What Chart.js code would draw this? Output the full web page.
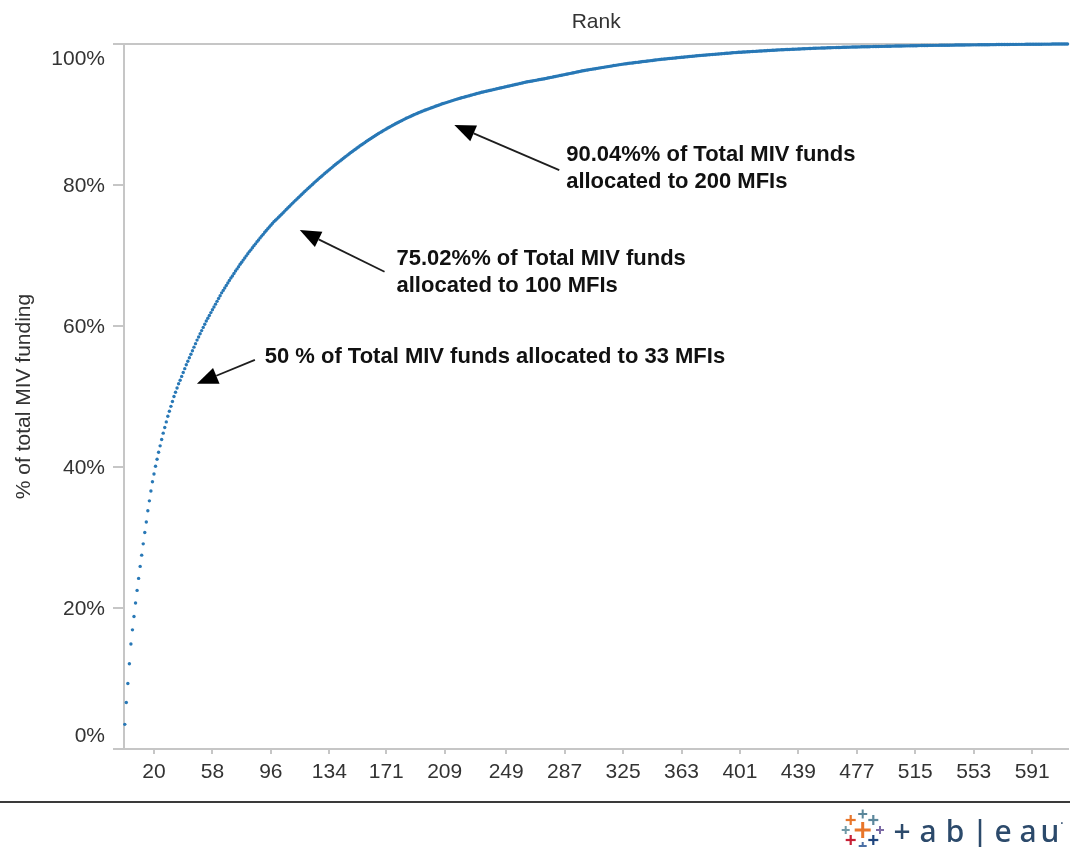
<!DOCTYPE html>
<html><head><meta charset="utf-8">
<script src="https://cdn.jsdelivr.net/npm/chart.js@4.4.1/dist/chart.umd.min.js"></script>
<style>html,body{margin:0;padding:0;background:#fff;overflow:hidden}#wrap{width:1070px;height:847px;position:relative}</style>
</head><body><div id="wrap"><canvas id="c" width="1070" height="847"></canvas></div>
<script>
// ---- data ----
const xTickValues = [20,58,96,134,171,209,249,287,325,363,401,439,477,515,553,591];
const yTickValues = [0,20,40,60,80,100];
const yTickLabels = ['0%','20%','40%','60%','80%','100%'];
// cumulative % of total MIV funding, rank 1 .. 614
const cumulativeShare = [
3.5,6.6,9.3,12.1,14.9,16.9,18.8,20.7,22.5,24.2,25.9,27.5,29.1,30.7,32.2,33.8,35.2,36.6,37.9,39.0,40.1,41.1,42.1,43.0,43.9,
44.8,45.6,46.4,47.2,47.9,48.6,49.3,50.0,50.6,51.2,51.8,52.3,52.85,53.4,53.95,54.5,55.0,55.5,56.0,56.5,57.0,57.5,58.0,58.45,58.9,
59.35,59.8,60.25,60.7,61.1,61.5,61.9,62.3,62.7,63.1,63.5,63.9,64.3,64.7,65.05,65.4,65.75,66.1,66.45,66.8,67.1,67.45,67.8,68.1,68.4,
68.75,69.05,69.35,69.65,69.95,70.25,70.55,70.8,71.1,71.4,71.65,71.95,72.2,72.5,72.75,73.0,73.3,73.55,73.8,74.05,74.3,74.55,74.8,75.0,75.2,
75.42,75.64,75.86,76.08,76.3,76.52,76.74,76.96,77.18,77.4,77.61,77.82,78.03,78.24,78.45,78.66,78.87,79.08,79.28,79.48,79.68,79.88,80.08,80.28,80.48,
80.68,80.87,81.06,81.25,81.44,81.63,81.82,82.0,82.18,82.36,82.54,82.72,82.9,83.08,83.25,83.42,83.59,83.76,83.93,84.1,84.27,84.44,84.6,84.76,84.92,
85.08,85.24,85.4,85.56,85.71,85.86,86.01,86.16,86.31,86.46,86.6,86.74,86.88,87.02,87.16,87.3,87.43,87.56,87.69,87.82,87.95,88.08,88.2,88.32,88.44,
88.56,88.68,88.8,88.91,89.02,89.13,89.24,89.35,89.46,89.56,89.66,89.76,89.86,89.96,90.06,90.15,90.24,90.33,90.42,90.51,90.6,90.68,90.76,90.84,90.92,
91.0,91.08,91.16,91.24,91.32,91.4,91.48,91.55,91.62,91.69,91.76,91.83,91.9,91.97,92.04,92.11,92.18,92.25,92.31,92.37,92.43,92.49,92.55,92.61,92.67,
92.73,92.79,92.85,92.91,92.97,93.03,93.09,93.15,93.2,93.25,93.3,93.35,93.4,93.45,93.5,93.55,93.6,93.65,93.7,93.75,93.8,93.85,93.9,93.95,94.0,
94.05,94.1,94.15,94.2,94.25,94.3,94.35,94.4,94.45,94.5,94.55,94.6,94.64,94.68,94.72,94.76,94.8,94.84,94.88,94.92,94.96,95.0,95.04,95.08,95.12,
95.17,95.21,95.26,95.3,95.35,95.39,95.44,95.48,95.53,95.57,95.62,95.66,95.71,95.75,95.8,95.84,95.89,95.93,95.98,96.02,96.07,96.11,96.16,96.2,96.25,
96.29,96.32,96.36,96.4,96.43,96.47,96.5,96.54,96.58,96.61,96.65,96.68,96.72,96.76,96.79,96.83,96.86,96.9,96.94,96.97,97.01,97.04,97.08,97.11,97.15,
97.18,97.2,97.23,97.26,97.29,97.31,97.34,97.37,97.4,97.42,97.45,97.48,97.51,97.53,97.56,97.59,97.61,97.64,97.67,97.7,97.72,97.75,97.78,97.8,97.83,
97.85,97.87,97.89,97.92,97.94,97.96,97.98,98.0,98.02,98.05,98.07,98.09,98.11,98.13,98.15,98.18,98.2,98.22,98.24,98.26,98.28,98.31,98.33,98.35,98.37,
98.39,98.41,98.42,98.44,98.46,98.48,98.5,98.51,98.53,98.55,98.57,98.59,98.6,98.62,98.64,98.66,98.68,98.69,98.71,98.73,98.75,98.77,98.78,98.8,98.82,
98.83,98.84,98.86,98.87,98.88,98.9,98.91,98.92,98.94,98.95,98.96,98.98,98.99,99.0,99.01,99.03,99.04,99.05,99.07,99.08,99.09,99.11,99.12,99.13,99.15,
99.16,99.17,99.18,99.19,99.2,99.21,99.22,99.23,99.24,99.25,99.26,99.27,99.28,99.29,99.3,99.31,99.32,99.33,99.34,99.35,99.36,99.37,99.38,99.39,99.4,
99.41,99.42,99.42,99.43,99.44,99.44,99.45,99.46,99.46,99.47,99.48,99.49,99.49,99.5,99.51,99.51,99.52,99.53,99.53,99.54,99.55,99.55,99.56,99.57,99.57,
99.58,99.58,99.59,99.59,99.6,99.6,99.61,99.61,99.62,99.62,99.63,99.63,99.64,99.64,99.65,99.65,99.66,99.66,99.67,99.67,99.68,99.68,99.69,99.69,99.7,
99.7,99.71,99.71,99.72,99.72,99.72,99.73,99.73,99.74,99.74,99.74,99.75,99.75,99.76,99.76,99.76,99.77,99.77,99.78,99.78,99.78,99.79,99.79,99.8,99.8,
99.8,99.81,99.81,99.81,99.81,99.82,99.82,99.82,99.83,99.83,99.83,99.83,99.84,99.84,99.84,99.85,99.85,99.85,99.85,99.86,99.86,99.86,99.87,99.87,99.87,
99.87,99.88,99.88,99.88,99.88,99.89,99.89,99.89,99.89,99.9,99.9,99.9,99.9,99.91,99.91,99.91,99.91,99.92,99.92,99.92,99.92,99.93,99.93,99.93,99.93,
99.93,99.94,99.94,99.94,99.94,99.94,99.95,99.95,99.95,99.95,99.95,99.96,99.96,99.96,99.96,99.96,99.96,99.97,99.97,99.97,99.97,99.97,99.98,99.98,99.98,
99.98,99.98,99.98,99.99,99.99,99.99,99.99,99.99,99.99,100,100,100,100,100
];
const annotationTexts = [
  ['90.04%% of Total MIV funds','allocated to 200 MFIs'],
  ['75.02%% of Total MIV funds','allocated to 100 MFIs'],
  ['50 % of Total MIV funds allocated to 33 MFIs']
];
// anchor points in data units [rank, %]
const annotationAnchors = [
  {tip:[215.3,88.5], tail:[283.5,82.1], text:[288,84.3]},
  {tip:[114.8,73.6], tail:[169.9,67.7], text:[177.7,69.5]},
  {tip:[47.9,51.8],  tail:[85.6,55.2],  text:[92,55.6]}
];

const points = cumulativeShare.map((v,i)=>({x:i+1,y:v}));
const FONT = '"Liberation Sans", Arial, sans-serif';
const AXIS_GRAY = '#c6c6c6';
const TEXT = '#333333';

const decorPlugin = {
  id:'decor',
  afterDraw(chart){
    const ctx = chart.ctx, xs = chart.scales.x, ys = chart.scales.y;
    ctx.save();
    // y tick labels (Tableau keeps edge labels inside the axis range)
    ctx.font = '21px ' + FONT; ctx.fillStyle = TEXT;
    ctx.textAlign = 'right'; ctx.textBaseline = 'middle';
    yTickValues.forEach((v,i)=>{
      let py = ys.getPixelForValue(v);
      py = Math.min(Math.max(py, ys.top + 14), ys.bottom - 14);
      ctx.fillText(yTickLabels[i], ys.right - 19, py + 1);
    });
    // annotations
    annotationAnchors.forEach((a,i)=>{
      const tx = xs.getPixelForValue(a.tip[0]), ty = ys.getPixelForValue(a.tip[1]);
      const sx = xs.getPixelForValue(a.tail[0]), sy = ys.getPixelForValue(a.tail[1]);
      const ang = Math.atan2(ty-sy, tx-sx);
      const L = 21, W = 8.5;
      const bx = tx - L*Math.cos(ang), by = ty - L*Math.sin(ang);
      ctx.strokeStyle = '#1e1e1e'; ctx.lineWidth = 1.8;
      ctx.beginPath(); ctx.moveTo(sx,sy); ctx.lineTo(bx,by); ctx.stroke();
      ctx.fillStyle = '#000';
      ctx.beginPath();
      ctx.moveTo(tx,ty);
      ctx.lineTo(bx + W*Math.sin(ang), by - W*Math.cos(ang));
      ctx.lineTo(bx - W*Math.sin(ang), by + W*Math.cos(ang));
      ctx.closePath(); ctx.fill();
      ctx.font = 'bold 22px ' + FONT; ctx.fillStyle = '#111';
      ctx.textAlign = 'left'; ctx.textBaseline = 'middle';
      const px = xs.getPixelForValue(a.text[0]), py = ys.getPixelForValue(a.text[1]);
      annotationTexts[i].forEach((line,j)=> ctx.fillText(line, px, py + j*27));
    });
    // footer divider
    ctx.strokeStyle = '#3a3a3a'; ctx.lineWidth = 2;
    ctx.beginPath(); ctx.moveTo(0, 802); ctx.lineTo(1070, 802); ctx.stroke();
    // tableau logo
    const cross = (cx,cy,h,t,col)=>{ ctx.fillStyle = col; ctx.fillRect(cx-h,cy-t/2,2*h,t); ctx.fillRect(cx-t/2,cy-h,t,2*h); };
    cross(862.7,814,4.5,2,'#5b879b');
    cross(850.7,820,5,2.2,'#e8762b');
    cross(873.3,820,5,2.2,'#5b879b');
    cross(845.7,830,4,2,'#7099a6');
    cross(862.7,830,8,3,'#e8762b');
    cross(880,830,4,2,'#7c6ba5');
    cross(850.7,840,5,2.2,'#c72035');
    cross(873.3,840,5,2.2,'#1f457e');
    cross(862.7,846,4,2,'#4a6fa5');
    ctx.fillStyle = '#2c4a6b';
    ctx.font = '500 30px "Noto Sans", sans-serif';
    ctx.textAlign = 'center'; ctx.textBaseline = 'alphabetic';
    const logoChars = ['+','a','b','|','e','a','u'];
    const logoX = [902,928,955,980,1003,1028,1050];
    logoChars.forEach((c,k)=> ctx.fillText(c, logoX[k], 842));
    ctx.font = '500 12px "Noto Sans", sans-serif';
    ctx.fillText('·', 1062, 828);
    ctx.restore();
  }
};

new Chart(document.getElementById('c'), {
  type:'scatter',
  data:{ datasets:[{
    data: points,
    showLine:false,
    pointRadius:1.7,
    pointHoverRadius:1.7,
    pointBorderWidth:0,
    pointBackgroundColor:'#2878b6',
    backgroundColor:'#2878b6',
    clip:false
  }]},
  options:{
    responsive:false, animation:false,
    layout:{padding:0},
    plugins:{legend:{display:false}, tooltip:{enabled:false}},
    scales:{
      x:{
        type:'linear', position:'bottom', min:0.5, max:614.5,
        afterBuildTicks:(s)=>{ s.ticks = xTickValues.map(v=>({value:v})); },
        afterFit:(s)=>{ s.height = 98; },
        ticks:{ autoSkip:false, maxRotation:0, padding:6, color:TEXT, font:{family:FONT,size:21},
          callback:(v)=>String(v) },
        grid:{ drawOnChartArea:false, drawTicks:true, tickLength:5, color:AXIS_GRAY, lineWidth:2 },
        border:{ display:true, color:AXIS_GRAY, width:2 }
      },
      xTop:{
        type:'linear', position:'top', min:0.5, max:614.5,
        afterFit:(s)=>{ s.height = 44; },
        ticks:{ display:false },
        grid:{ display:false },
        border:{ display:true, color:AXIS_GRAY, width:2 },
        title:{ display:true, text:'Rank', color:TEXT, font:{family:FONT,size:21}, padding:{top:10,bottom:0} }
      },
      y:{
        type:'linear', position:'left', min:0, max:100,
        afterBuildTicks:(s)=>{ s.ticks = yTickValues.map(v=>({value:v})); },
        afterFit:(s)=>{ s.width = 124; },
        ticks:{ display:false },
        grid:{ drawOnChartArea:false, drawTicks:true, tickLength:11, color:AXIS_GRAY, lineWidth:2 },
        border:{ display:true, color:AXIS_GRAY, width:2 },
        title:{ display:true, text:'% of total MIV funding', color:TEXT, font:{family:FONT,size:21}, padding:{top:12,bottom:0} }
      }
    }
  },
  plugins:[decorPlugin]
});
</script>
</body></html>
